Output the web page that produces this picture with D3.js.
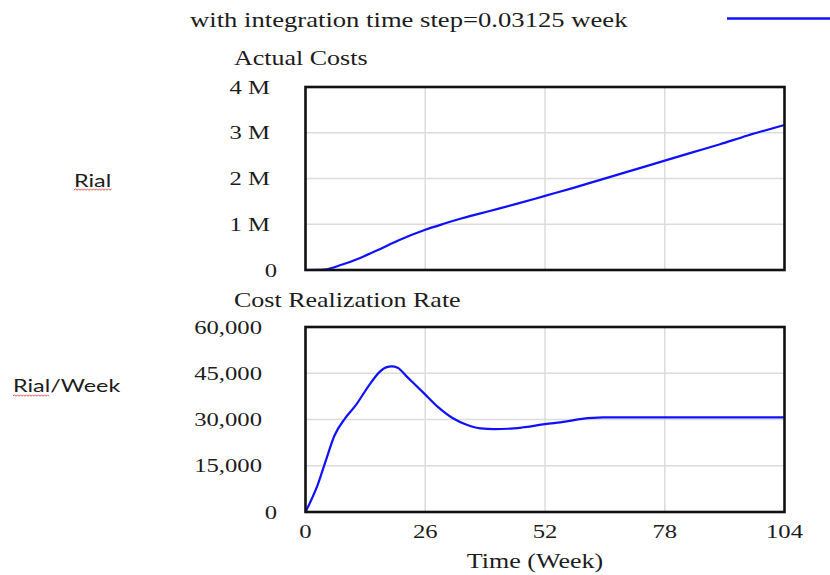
<!DOCTYPE html>
<html>
<head>
<meta charset="utf-8">
<script src="https://cdn.jsdelivr.net/npm/d3@7"></script>
<style>
  html, body { margin: 0; padding: 0; background: #fff; }
  svg { display: block; }
</style>
</head>
<body>
<svg id="chart" width="830" height="575"></svg>
<script>
// ---- data ----
const legendLabel = "with integration time step=0.03125 week";
const xTicks = [0, 26, 52, 78, 104];

const costTitle = "Actual Costs";
const costUnit = "Rial";
const costTicks = [0, 1e6, 2e6, 3e6, 4e6];
const costTickLabels = ["0", "1 M", "2 M", "3 M", "4 M"];
const costWeeks  = [0, 4, 8, 12, 16, 20, 26, 30, 34, 40, 46, 52, 58, 64, 70, 78, 84, 90, 96, 104];
const costValues = [0, 0.01e6, 0.12e6, 0.27e6, 0.45e6, 0.64e6, 0.88e6, 1.01e6, 1.13e6, 1.29e6, 1.45e6, 1.62e6, 1.79e6, 1.97e6, 2.15e6, 2.39e6, 2.57e6, 2.75e6, 2.94e6, 3.17e6];

const rateTitle = "Cost Realization Rate";
const rateUnit = "Rial/Week";
const rateTicks = [0, 15000, 30000, 45000, 60000];
const rateTickLabels = ["0", "15,000", "30,000", "45,000", "60,000"];
const rateWeeks  = [0, 2.6, 4.5, 6.3, 8.6, 10.8, 13.8, 16, 17.5, 18.7, 20, 22, 25.8, 28.8, 32, 35, 38, 41, 44, 47, 52, 56.4, 60, 64.6, 104];
const rateValues = [0, 8600, 17100, 24800, 30400, 34400, 41100, 45300, 46900, 47200, 46800, 43900, 38400, 34000, 30400, 28300, 27100, 26900, 27000, 27400, 28500, 29300, 30200, 30700, 30700];

const xLabel = "Time (Week)";

// ---- layout ----
const svg = d3.select("#chart");
const L = 305.5, R = 784.5;
const SX = 1.3; // horizontal stretch of the reference text
const serif = "'Liberation Serif', 'Times New Roman', serif";
const sans = "Lato, 'Open Sans', sans-serif";
const textCol = "#1c1c1c";
const blue = "#1010ff";

const x = d3.scaleLinear().domain([0, 104]).range([L, R]);

function stext(str, tx, ty, size, anchor, family) {
  return svg.append("text")
    .attr("transform", `translate(${tx},${ty}) scale(${SX},1)`)
    .attr("text-anchor", anchor || "start")
    .attr("font-family", family || serif)
    .attr("font-size", size)
    .attr("fill", textCol)
    .text(str);
}

function squiggle(x0, x1, y) {
  let d = `M${x0},${y}`;
  let up = true;
  for (let xx = x0 + 1.5; xx <= x1; xx += 1.5) {
    d += ` L${xx},${up ? y - 1.2 : y + 0.3}`;
    up = !up;
  }
  svg.append("path").attr("d", d).attr("fill", "none")
    .attr("stroke", "#e04040").attr("stroke-width", 0.9);
}

function panel(top, bottom, ticks, tickLabels, labelRight, weeks, values, yMax) {
  const y = d3.scaleLinear().domain([0, yMax]).range([bottom, top]);
  const g = svg.append("g");
  // grid
  g.selectAll(".vg").data(xTicks.slice(1, -1)).enter().append("line")
    .attr("x1", d => x(d)).attr("x2", d => x(d))
    .attr("y1", top).attr("y2", bottom)
    .attr("stroke", "#dcdcdc").attr("stroke-width", 1.5);
  g.selectAll(".hg").data(ticks.slice(1, -1)).enter().append("line")
    .attr("x1", L).attr("x2", R)
    .attr("y1", d => y(d)).attr("y2", d => y(d))
    .attr("stroke", "#dcdcdc").attr("stroke-width", 1.5);
  // line
  const line = d3.line().x((d, i) => x(weeks[i])).y(d => y(d)).curve(d3.curveMonotoneX);
  g.append("path").datum(values).attr("d", line)
    .attr("fill", "none").attr("stroke", blue).attr("stroke-width", 2.2);
  // frame
  g.append("rect").attr("x", L).attr("y", top).attr("width", R - L).attr("height", bottom - top)
    .attr("fill", "none").attr("stroke", "#111").attr("stroke-width", 2.6);
  // tick labels
  ticks.forEach((t, i) => {
    const xr = t === 0 ? 277 : labelRight;
    stext(tickLabels[i], xr, y(t) + 6.5, 19, "end");
  });
  return y;
}

// legend
stext(legendLabel, 190, 27, 20.5, "start");
svg.append("line").attr("x1", 727).attr("x2", 830).attr("y1", 18.5).attr("y2", 18.5)
  .attr("stroke", blue).attr("stroke-width", 2.6);

// top panel
stext(costTitle, 234, 65, 20, "start");
panel(87, 270, costTicks, costTickLabels, 270, costWeeks, costValues, 4e6);
stext(costUnit, 74, 187, 18, "start", sans);
squiggle(74, 112, 190);

// bottom panel
stext(rateTitle, 234, 307, 20, "start");
panel(327, 512, rateTicks, rateTickLabels, 262, rateWeeks, rateValues, 60000);
stext(rateUnit, 13, 392, 18, "start", sans);
squiggle(13, 50, 396);

// x tick labels
xTicks.forEach(t => stext(String(t), x(t), 538, 19, "middle"));
stext(xLabel, 535, 568, 20, "middle");
</script>
</body>
</html>
